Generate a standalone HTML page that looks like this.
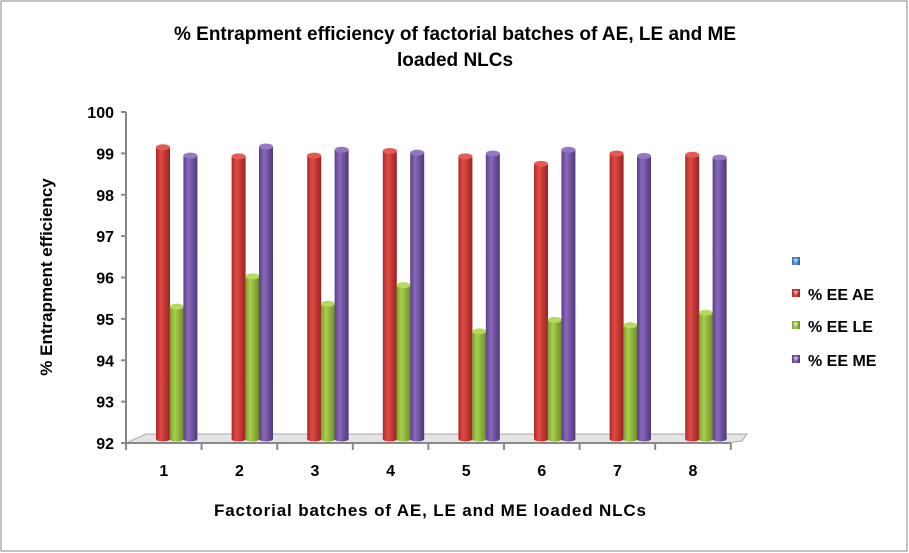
<!DOCTYPE html>
<html><head><meta charset="utf-8"><style>
body{margin:0;background:#fff;}
svg{display:block;font-family:"Liberation Sans",Arial,sans-serif;}
</style></head><body>
<svg id="chart" width="909" height="553">
<defs>
<linearGradient id="gR" x1="0" x2="1"><stop offset="0" stop-color="#a82a27"/><stop offset="0.35" stop-color="#e24a45"/><stop offset="1" stop-color="#982321"/></linearGradient>
<linearGradient id="gG" x1="0" x2="1"><stop offset="0" stop-color="#7a9c2e"/><stop offset="0.35" stop-color="#a9d04d"/><stop offset="1" stop-color="#6e8e28"/></linearGradient>
<linearGradient id="gP" x1="0" x2="1"><stop offset="0" stop-color="#5a4086"/><stop offset="0.35" stop-color="#8a68bb"/><stop offset="1" stop-color="#50387a"/></linearGradient>
<linearGradient id="gB" x1="0" x2="1"><stop offset="0" stop-color="#2f6fb8"/><stop offset="0.4" stop-color="#5b9be0"/><stop offset="1" stop-color="#2a5f9f"/></linearGradient>
</defs>
<rect x="1" y="1" width="906" height="550" fill="#fff" stroke="#888"/>
<text x="455" y="40" text-anchor="middle" font-size="19" font-weight="bold">% Entrapment efficiency of factorial batches of AE, LE and ME</text>
<text x="455" y="66" text-anchor="middle" font-size="19" font-weight="bold">loaded NLCs</text>
<text transform="translate(52,277) rotate(-90)" text-anchor="middle" font-size="17" font-weight="bold">% Entrapment efficiency</text>
<text x="430" y="516" text-anchor="middle" font-size="17" font-weight="bold" textLength="432">Factorial batches of AE, LE and ME loaded NLCs</text>
<polygon points="126,443 146,434 747,434 742,441 727,443" fill="#e4e4e4" stroke="#aaa"/>
<g id="axes"></g>
<g id="bars"></g>
<g id="legend"></g>
</svg>
<script>
const categories=["1","2","3","4","5","6","7","8"];
const seriesAE=[99.05,98.83,98.85,98.96,98.83,98.65,98.9,98.87];
const seriesLE=[95.2,95.93,95.27,95.72,94.6,94.88,94.75,95.05];
const seriesME=[98.85,99.07,98.99,98.92,98.9,98.99,98.84,98.8];
const yTicks=[92,93,94,95,96,97,98,99,100];
const seriesNames=["% EE AE","% EE LE","% EE ME"];
const NS="http://www.w3.org/2000/svg";
const y0=443,y1=112,vmin=92,vmax=100;
function yS(v){return y0-(v-vmin)/(vmax-vmin)*(y0-y1);}
const xL=126,step=75.6;
function xS(i){return xL+step*i;}
function mk(tag,attrs,parent){const e=document.createElementNS(NS,tag);for(const k in attrs)e.setAttribute(k,attrs[k]);parent.appendChild(e);return e;}
const ax=document.getElementById('axes');
let l=mk('line',{x1:xL,y1:y1,x2:xL,y2:y0+4,stroke:'#888','stroke-width':2},ax);


l=mk('line',{x1:xL,y1:y0,x2:xS(8),y2:y0,stroke:'#888','stroke-width':2},ax);


yTicks.forEach(t=>{
 mk('line',{x1:xL-5,y1:yS(t),x2:xL,y2:yS(t),stroke:'#888','stroke-width':2},ax);
 const tx=mk('text',{x:xL-12,y:yS(t)+6,'text-anchor':'end','font-size':16,'font-weight':'bold'},ax);
 tx.textContent=t;
 
 
});
for(let i=0;i<=categories.length;i++)mk('line',{x1:xS(i),y1:y0,x2:xS(i),y2:y0+7,stroke:'#888','stroke-width':2},ax);
categories.forEach((c,i)=>{
 const tx=mk('text',{x:xS(i)+step/2,y:y0+33,'text-anchor':'middle','font-size':16,'font-weight':'bold'},ax);
 tx.textContent=c;
 
 
});
const bars=document.getElementById('bars');
const fills=['url(#gR)','url(#gG)','url(#gP)'];
const caps=['#e65a54','#b6d960','#9478c4'];
const all=[seriesAE,seriesLE,seriesME];
const bw=14,base=439;
categories.forEach((c,i)=>{
 all.forEach((s,k)=>{
  const x=xS(i)+30+k*13.7;
  const top=yS(s[i])-4;
  const g=mk('g',{},bars);
  
  
  mk('rect',{x:x,y:top,width:bw,height:base-top,fill:fills[k]},g);
  mk('ellipse',{cx:x+bw/2,cy:base,rx:bw/2,ry:2.5,fill:fills[k]},g);
  mk('ellipse',{cx:x+bw/2,cy:top,rx:bw/2,ry:3,fill:caps[k]},g);
 });
});
const lg=document.getElementById('legend');
const lf=['url(#gB)','url(#gR)','url(#gG)','url(#gP)'];
const ly=[262,294,326,360];
const lnames=[""].concat(seriesNames);
lnames.forEach((n,i)=>{
 const g=mk('g',{},lg);
 
 
 mk('rect',{x:792,y:ly[i]-5,width:8,height:8,fill:lf[i]},g);
 mk('polygon',{points:`793,${ly[i]-3} 799,${ly[i]-3} 796,${ly[i]+1}`,fill:'rgba(255,255,255,0.5)'},g);
 const t=mk('text',{x:808,y:ly[i]+6,'font-size':16,'font-weight':'bold'},g);
 t.textContent=n;
});
</script>
</body></html>
